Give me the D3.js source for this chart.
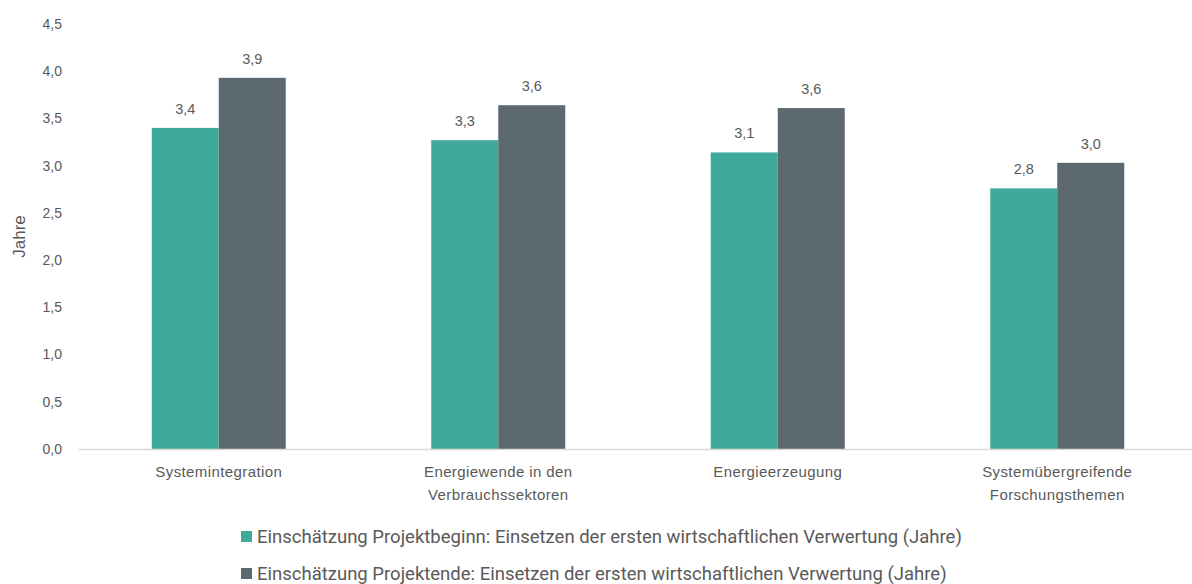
<!DOCTYPE html>
<html>

<head>
    <meta charset="utf-8">
    <title>Verwertung</title>
    <style>
        body {
            margin: 0;
            background: #fff;
        }

        text {
            font-family: "Liberation Sans", "DejaVu Sans", sans-serif;
            fill: #595959;
        }
    </style>
    <script src="https://d3js.org/d3.v7.min.js"></script>
</head>

<body>
    <script>
        var categories = [
            ["Systemintegration"],
            ["Energiewende in den", "Verbrauchssektoren"],
            ["Energieerzeugung"],
            ["Systemübergreifende", "Forschungsthemen"]
        ];
        var seriesNames = [
            "Einschätzung Projektbeginn: Einsetzen der ersten wirtschaftlichen Verwertung (Jahre)",
            "Einschätzung Projektende: Einsetzen der ersten wirtschaftlichen Verwertung (Jahre)"
        ];
        var beginn = [3.40, 3.27, 3.14, 2.76];
        var ende = [3.93, 3.64, 3.61, 3.03];
        var colors = ["#40aa9a", "#5c6971"];
        var yTicks = [0, 0.5, 1, 1.5, 2, 2.5, 3, 3.5, 4, 4.5];

        var w = 1192;
        var h = 584;

        var svg = d3.select("body").append("svg")
            .attr("width", w)
            .attr("height", h);

        var x = d3.scaleBand()
            .domain(d3.range(categories.length))
            .range([79, 1197]);

        var x1 = d3.scaleBand()
            .domain([0, 1])
            .range([0, 134]);

        var y = d3.scaleLinear()
            .domain([0, 4.5])
            .range([449, 24]);

        var fmt = function (v) { return d3.format(".1f")(v).replace(".", ","); };

        // y tick labels
        svg.selectAll(".ytick")
            .data(yTicks)
            .enter()
            .append("text")
            .attr("class", "ytick")
            .attr("x", 62)
            .attr("y", function (d) { return y(d); })
            .attr("dy", "0.35em")
            .attr("text-anchor", "end")
            .style("font-size", "14px")
            .text(fmt);

        svg.append("text")
            .attr("transform", "translate(25," + y(2.25) + ") rotate(-90)")
            .attr("text-anchor", "middle")
            .style("font-size", "17px")
            .text("Jahre");

        var series = [beginn, ende];

        series.forEach(function (vals, s) {
            svg.selectAll(".bar" + s)
                .data(vals)
                .enter()
                .append("rect")
                .attr("x", function (d, i) { return x(i) + x.bandwidth() / 2 - 67 + x1(s); })
                .attr("y", function (d) { return y(d); })
                .attr("width", x1.bandwidth())
                .attr("height", function (d) { return y(0) - y(d); })
                .style("fill", colors[s]);

            svg.selectAll(".lab" + s)
                .data(vals)
                .enter()
                .append("text")
                .attr("x", function (d, i) { return x(i) + x.bandwidth() / 2 - 67 + x1(s) + x1.bandwidth() / 2; })
                .attr("y", function (d) { return y(d) - 14; })
                .attr("text-anchor", "middle")
                .style("font-size", "14.5px")
                .text(fmt);
        });

        // axis line
        svg.append("line")
            .attr("x1", 79)
            .attr("x2", 1192)
            .attr("y1", y(0) + 0.5)
            .attr("y2", y(0) + 0.5)
            .style("stroke", "#d9d9d9")
            .style("stroke-width", 1.5);

        // category labels
        var cat = svg.selectAll(".cat")
            .data(categories)
            .enter()
            .append("text")
            .attr("text-anchor", "middle")
            .style("font-size", "15px")
            .style("letter-spacing", "0.4px")
            .attr("transform", function (d, i) { return "translate(" + (x(i) + x.bandwidth() / 2) + ",477)"; });

        cat.selectAll("tspan")
            .data(function (d) { return d; })
            .enter()
            .append("tspan")
            .attr("x", 0)
            .attr("dy", function (d, i) { return i === 0 ? 0 : 23; })
            .text(function (d) { return d; });

        // legend
        var leg = svg.selectAll(".leg")
            .data(seriesNames)
            .enter()
            .append("g")
            .attr("transform", function (d, i) { return "translate(241," + (537 + i * 37) + ")"; });

        leg.append("rect")
            .attr("x", 0)
            .attr("y", -6)
            .attr("width", 11)
            .attr("height", 11)
            .style("fill", function (d, i) { return colors[i]; });

        leg.append("text")
            .attr("x", 16)
            .attr("dy", "0.35em")
            .style("font-family", "Roboto, sans-serif")
            .style("font-size", "18.5px")
            .text(function (d) { return d; });
    </script>
</body>

</html>
